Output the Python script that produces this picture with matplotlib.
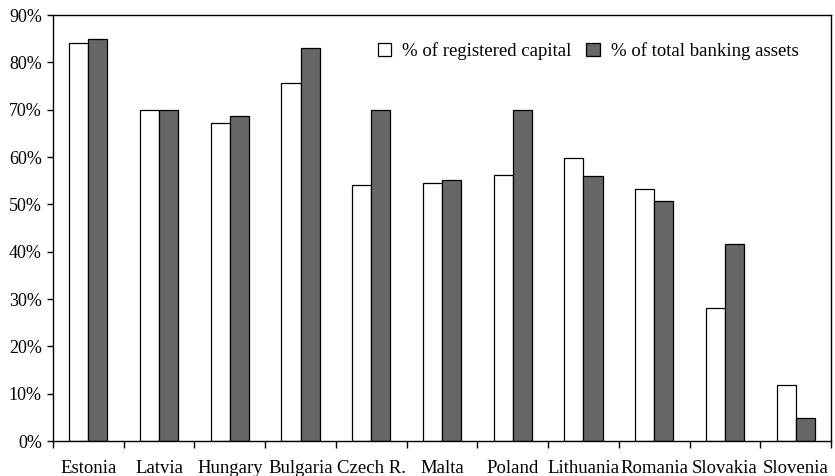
import numpy as np
import matplotlib.pyplot as plt
from matplotlib.ticker import FuncFormatter

countries = ['Estonia', 'Latvia', 'Hungary', 'Bulgaria', 'Czech R.', 'Malta',
             'Poland', 'Lithuania', 'Romania', 'Slovakia', 'Slovenia']
registered_capital = [84, 70, 67.2, 75.7, 54, 54.6, 56.2, 59.8, 53.2, 28.2, 11.8]
banking_assets = [85, 70, 68.7, 83, 70, 55.1, 70, 55.9, 50.8, 41.6, 4.8]

plt.rcParams['font.family'] = ['Liberation Serif', 'DejaVu Serif']

fig = plt.figure(figsize=(8.35, 4.76), dpi=100)
ax = fig.add_axes([53 / 835, 35 / 476, 778 / 835, 426 / 476])

x = np.arange(len(countries))
w = 0.27
ax.bar(x - w / 2, registered_capital, w, color='white', edgecolor='black',
       linewidth=0.9, label='% of registered capital')
ax.bar(x + w / 2, banking_assets, w, color='#666666', edgecolor='black',
       linewidth=0.9, label='% of total banking assets')

ax.set_xlim(-0.5, len(countries) - 0.5)
ax.set_ylim(0, 90)
ax.set_yticks(np.arange(0, 91, 10))
ax.yaxis.set_major_formatter(FuncFormatter(lambda v, p: '%d%%' % v))
ax.set_xticks(x)
ax.set_xticklabels(countries)
ax.set_xticks(np.arange(-0.5, len(countries), 1), minor=True)
ax.tick_params(axis='x', which='major', length=0, pad=14, labelsize=13.5)
ax.tick_params(axis='x', which='minor', length=5, width=1)
ax.tick_params(axis='y', length=4, width=1, labelsize=13, pad=4)

for s in ax.spines.values():
    s.set_linewidth(1)

ax.legend(loc='upper right', ncol=2, frameon=False, fontsize=13.5,
          handlelength=0.7, handleheight=0.7, handletextpad=0.6,
          columnspacing=0.8, bbox_to_anchor=(0.98, 0.975))

fig.savefig('out.png', dpi=100)
